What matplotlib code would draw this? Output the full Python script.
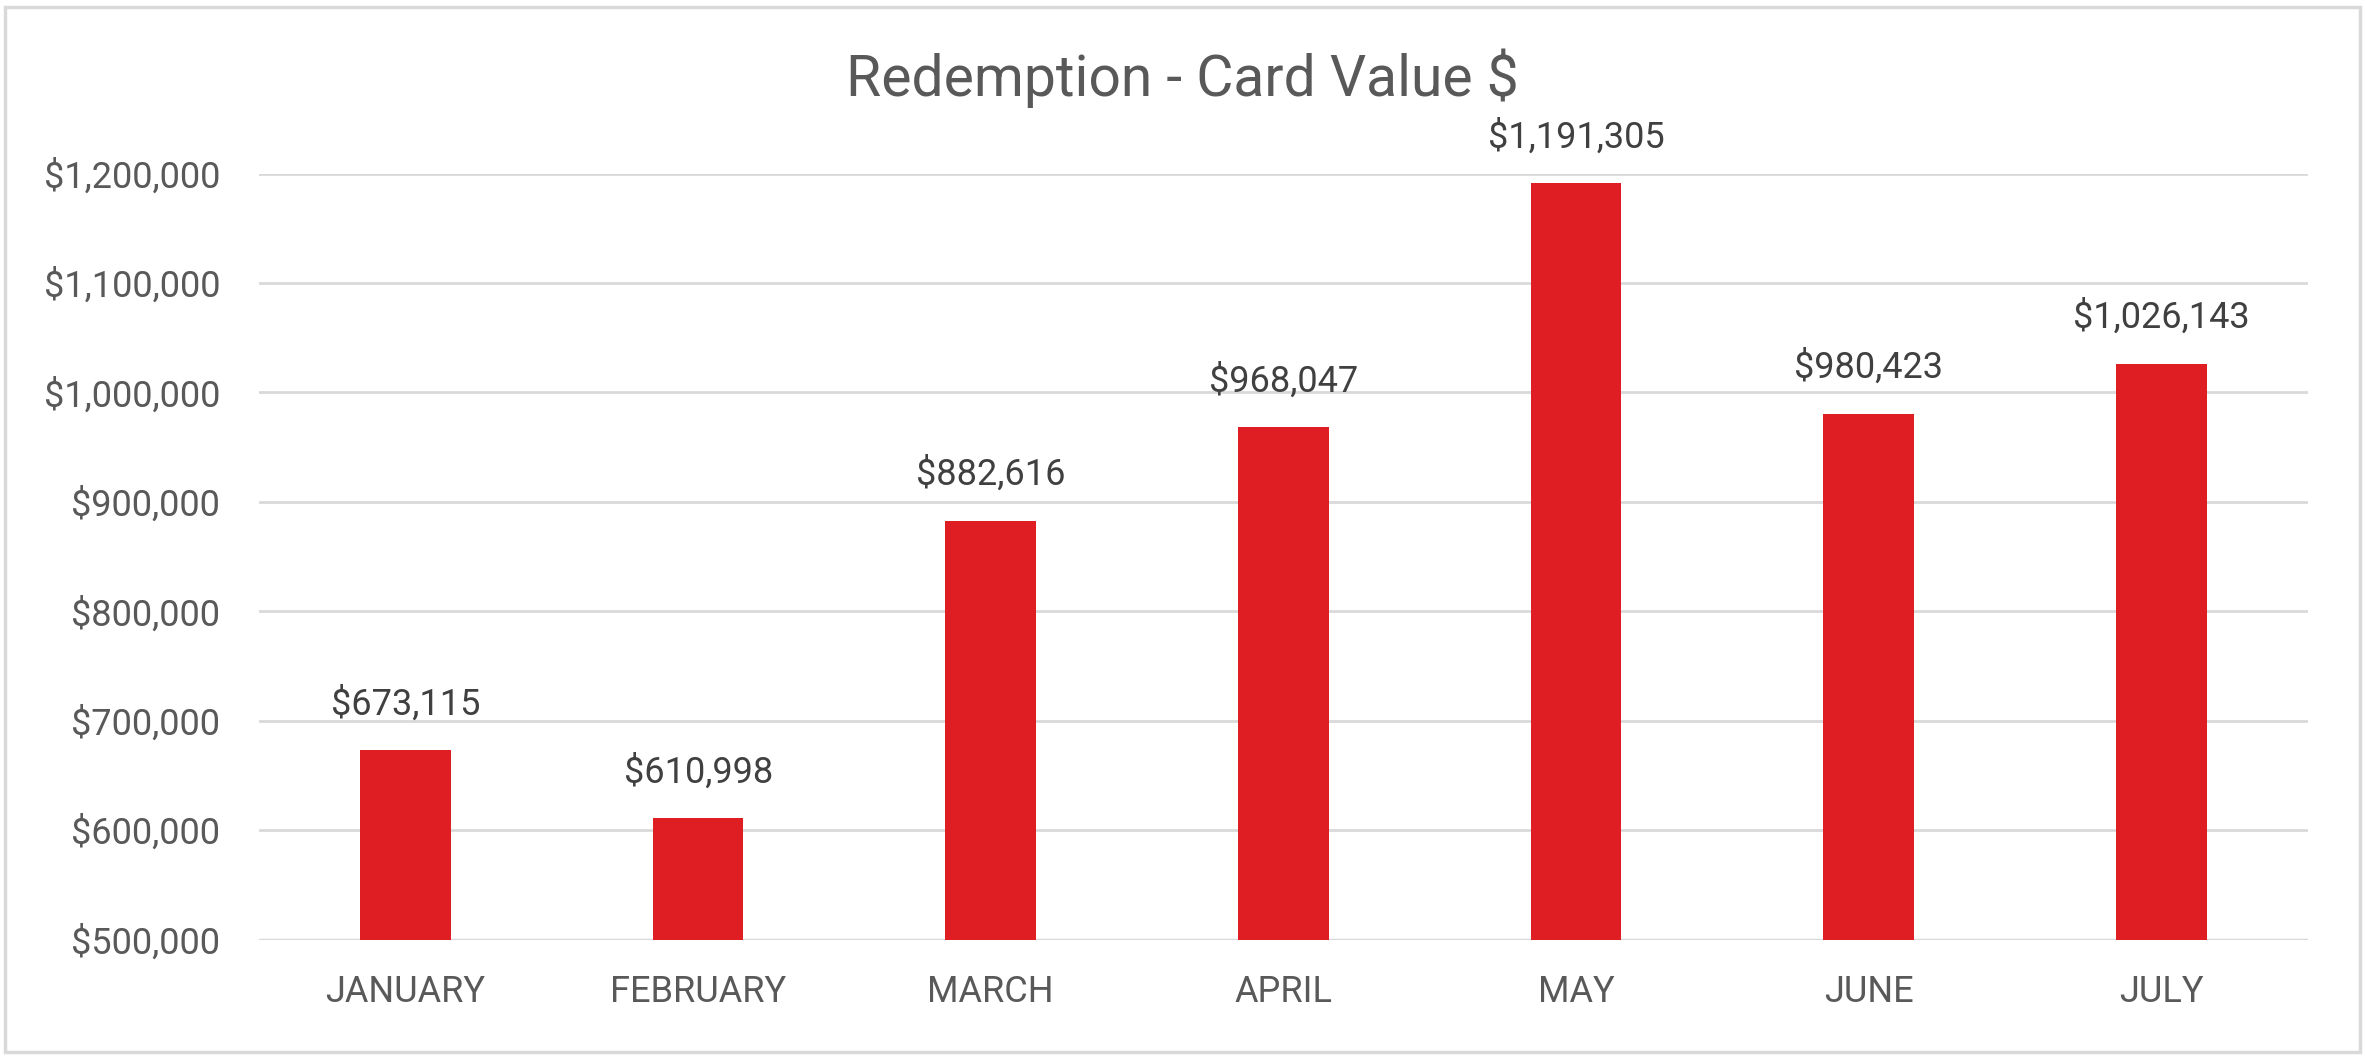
import matplotlib
matplotlib.use('Agg')

import matplotlib.pyplot as plt
import matplotlib.patches as mpatches
from matplotlib.ticker import FuncFormatter

# data
months = ['JANUARY', 'FEBRUARY', 'MARCH', 'APRIL', 'MAY', 'JUNE', 'JULY']
card_value = [673115, 610998, 882616, 968047, 1191305, 980423, 1026143]
y_ticks = [500000, 600000, 700000, 800000, 900000, 1000000, 1100000, 1200000]

bar_color = '#DF1E24'
text_color = '#595959'
label_color = '#404040'
grid_color = '#D9D9D9'

plt.rcParams['font.family'] = ['Roboto', 'DejaVu Sans']

fig = plt.figure(figsize=(23.65, 10.58), dpi=100)
ax = fig.add_axes([0.1096, 0.112, 0.8661, 0.724])

x = list(range(len(months)))
ax.bar(x, card_value, width=0.31, color=bar_color, zorder=3)

for xi, v in zip(x, card_value):
    ax.annotate('${:,.0f}'.format(v), xy=(xi, v), xytext=(0, 33), textcoords='offset points',
                ha='center', va='center', fontsize=26, color=label_color, annotation_clip=False)

ax.set_xlim(-0.5, len(months) - 0.5)
ax.set_ylim(500000, 1200000)
ax.set_yticks(y_ticks)
ax.yaxis.set_major_formatter(FuncFormatter(lambda v, p: '${:,.0f}'.format(v)))
ax.set_xticks(x)
ax.set_xticklabels(months)

ax.grid(axis='y', color=grid_color, linewidth=2, zorder=0)
for s in ax.spines.values():
    s.set_visible(False)
ax.axhline(500000, color=grid_color, linewidth=2.5, zorder=2)
ax.tick_params(axis='both', length=0, labelsize=26, colors=text_color)
ax.tick_params(axis='y', pad=28)
ax.tick_params(axis='x', pad=25)

fig.text(0.5, 0.926, 'Redemption - Card Value $', ha='center', va='center', fontsize=41, color=text_color)

# outer chart border
fig.patches.append(mpatches.Rectangle((0.002, 0.006), 0.996, 0.987, transform=fig.transFigure,
                                      fill=False, edgecolor=grid_color, linewidth=2.5))

fig.savefig('out.png', dpi=100)
